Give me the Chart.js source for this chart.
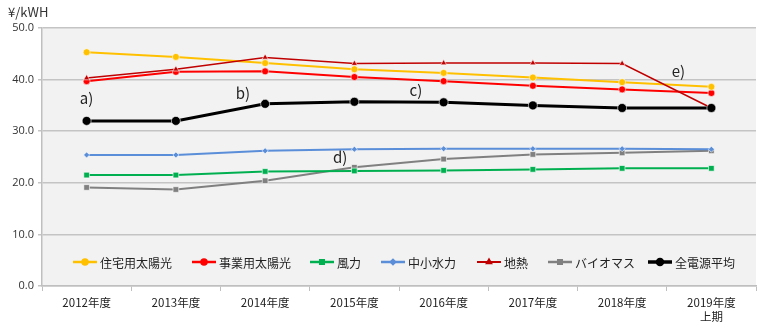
<!DOCTYPE html>
<html>
<head>
<meta charset="UTF-8">
<title>FIT買取価格の推移</title>
<style>
  html, body { margin: 0; padding: 0; background: #fff; }
  #wrap { width: 768px; height: 332px; }
</style>
<script src="https://cdn.jsdelivr.net/npm/chart.js@4/dist/chart.umd.min.js"></script>
</head>
<body>
<div id="wrap"><canvas id="fit"></canvas></div>
<script>
// 年度
var years = ["2012年度", "2013年度", "2014年度", "2015年度", "2016年度", "2017年度", "2018年度", ["2019年度", "上期"]];

// 電源別 (円/kWh)
var residentialSolar = [45.3, 44.4, 43.2, 42.0, 41.3, 40.4, 39.5, 38.6];
var industrialSolar  = [39.7, 41.5, 41.6, 40.5, 39.7, 38.8, 38.1, 37.4];
var wind             = [21.5, 21.5, 22.2, 22.3, 22.4, 22.6, 22.8, 22.8];
var smallHydro       = [25.4, 25.4, 26.2, 26.5, 26.6, 26.6, 26.6, 26.5];
var geothermal       = [40.3, 42.0, 44.3, 43.1, 43.2, 43.2, 43.1, 34.5];
var biomass          = [19.1, 18.7, 20.4, 23.0, 24.6, 25.5, 25.8, 26.2];
var allAverage       = [32.0, 32.0, 35.3, 35.7, 35.6, 35.0, 34.5, 34.5];

var yTicks = [0, 10, 20, 30, 40, 50];

// 注記 (カテゴリ位置, 値)
var noteText = ["a)", "b)", "c)", "d)", "e)"];
var noteX    = [0, 1.75, 3.69, 2.84, 6.63];
var noteY    = [36.4, 37.4, 38.0, 25.0, 41.7];

var jp = "'Noto Sans CJK JP', 'Noto Sans', sans-serif";

function series(label, data, color, style, radius, width, order) {
  return {
    label: label,
    data: data,
    borderColor: color,
    backgroundColor: color,
    borderWidth: width,
    pointStyle: style,
    pointRadius: radius,
    pointBorderColor: "rgba(255,255,255,0.6)",
    pointBackgroundColor: color,
    pointBorderWidth: 1,
    tension: 0,
    order: order
  };
}

var datasets = [
  series("住宅用太陽光", residentialSolar, "#ffc000", "circle", 3.5, 2, 2),
  series("事業用太陽光", industrialSolar, "#ff0000", "circle", 3.5, 2, 2),
  series("風力", wind, "#00b050", "rect", 4, 2, 2),
  series("中小水力", smallHydro, "#5b8ed8", "rectRot", 3, 2, 2),
  series("地熱", geothermal, "#c00000", "triangle", 3.5, 1.5, 1),
  series("バイオマス", biomass, "#808080", "rect", 4, 2, 2),
  series("全電源平均", allAverage, "#000000", "circle", 4.5, 3, 0)
];

// 背景・凡例・注記
var decor = {
  id: "decor",
  beforeDraw: function (chart) {
    var a = chart.chartArea, ctx = chart.ctx;
    ctx.save();
    ctx.fillStyle = "#f2f2f2";
    ctx.fillRect(a.left, a.top, a.right - a.left, a.bottom - a.top);
    ctx.restore();
  },
  afterDraw: function (chart) {
    var ctx = chart.ctx, x = chart.scales.x, y = chart.scales.y;
    ctx.save();
    // 単位
    ctx.fillStyle = "#333";
    ctx.font = "13px " + jp;
    ctx.textAlign = "left";
    ctx.textBaseline = "middle";
    ctx.fillText("¥/kWH", 8, 12);

    // 注記
    ctx.font = "15px " + jp;
    ctx.textAlign = "center";
    ctx.fillStyle = "#222";
    for (var i = 0; i < noteText.length; i++) {
      ctx.fillText(noteText[i], x.getPixelForValue(noteX[i]), y.getPixelForValue(noteY[i]));
    }

    // 凡例
    var starts = [73, 192, 310, 381, 477, 548, 648];
    var ly = 262;
    ctx.font = "12px " + jp;
    ctx.textAlign = "left";
    chart.data.datasets.forEach(function (ds, k) {
      var sx = starts[k];
      ctx.strokeStyle = ds.borderColor;
      ctx.lineWidth = ds.borderWidth + 0.5;
      ctx.beginPath();
      ctx.moveTo(sx, ly);
      ctx.lineTo(sx + 24, ly);
      ctx.stroke();
      ctx.fillStyle = ds.backgroundColor;
      ctx.strokeStyle = ds.borderColor;
      Chart.helpers.drawPoint(ctx, {
        pointStyle: ds.pointStyle,
        radius: ds.pointStyle === "rectRot" ? 2 : 2.5,
        borderWidth: 0.5,
        rotation: 0
      }, sx + 12, ly);
      ctx.fillStyle = "#222";
      ctx.fillText(ds.label, sx + 27, ly + 1);
    });
    ctx.restore();
  }
};

new Chart("fit", {
  type: "line",
  data: { labels: years, datasets: datasets },
  plugins: [decor],
  options: {
    responsive: true,
    maintainAspectRatio: false,
    animation: false,
    layout: { padding: { left: 0, right: 12, top: 28, bottom: 0 } },
    plugins: {
      legend: { display: false },
      tooltip: { enabled: false }
    },
    scales: {
      x: {
        offset: true,
        afterFit: function (s) { s.height = 46; },
        grid: {
          offset: true,
          drawOnChartArea: false,
          drawTicks: true,
          tickLength: 5,
          color: "#bfbfbf"
        },
        border: { color: "#bfbfbf", width: 1.5 },
        ticks: {
          color: "#222",
          font: { family: jp, size: 11.5 },
          maxRotation: 0,
          padding: 5
        }
      },
      y: {
        min: 0,
        max: 50,
        afterFit: function (s) { s.width = 42; },
        afterBuildTicks: function (s) {
          s.ticks = yTicks.map(function (v) { return { value: v }; });
        },
        grid: {
          color: "#c4c4c4",
          lineWidth: 1.5,
          drawTicks: true,
          tickLength: 4
        },
        border: { color: "#bfbfbf", width: 1.5 },
        ticks: {
          color: "#333",
          font: { family: "'Open Sans', sans-serif", size: 11 },
          padding: 4,
          callback: function (v) { return Number(v).toFixed(1); }
        }
      }
    }
  }
});
</script>
</body>
</html>
